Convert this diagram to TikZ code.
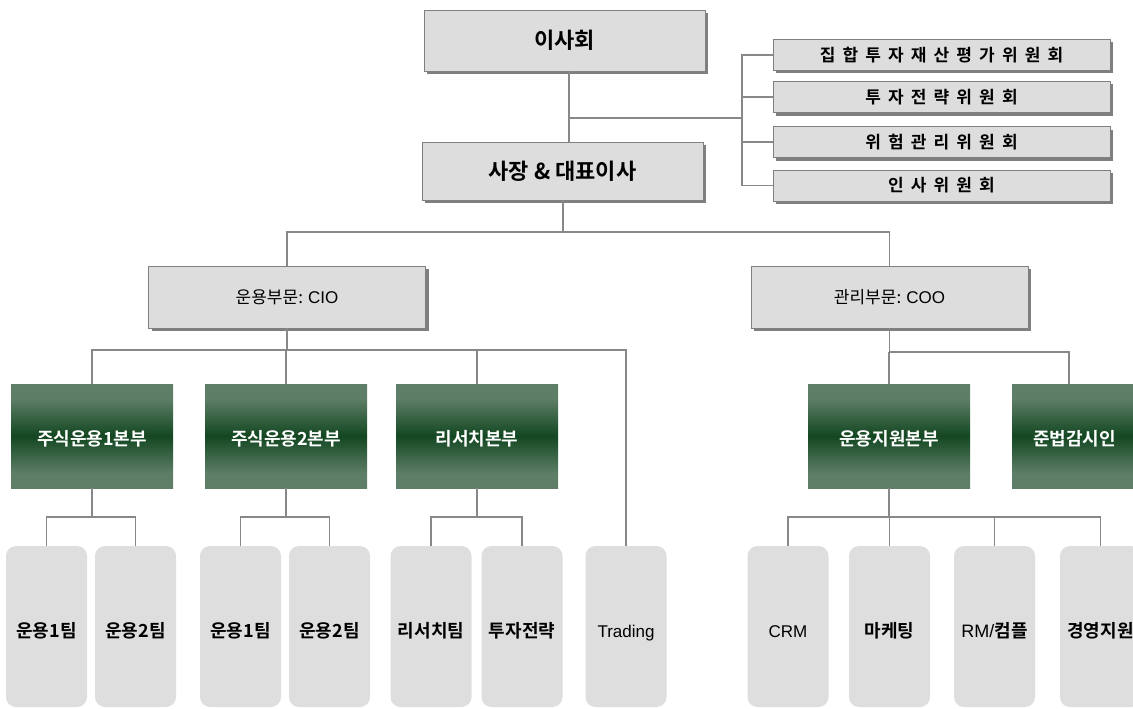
\documentclass[tikz,border=0pt]{standalone}
\usepackage{fontspec}
\setmainfont{Noto Sans CJK KR}[BoldFont={Noto Sans CJK KR Bold}]
\newfontfamily\latfont{Liberation Sans}
\usetikzlibrary{shadows}
\definecolor{boxgray}{HTML}{DDDDDD}
\definecolor{edgegray}{HTML}{808080}
\definecolor{shadowgray}{HTML}{7F7F7F}
\definecolor{linegray}{HTML}{888888}
\definecolor{gl}{HTML}{5E7E67}
\definecolor{gd}{HTML}{134721}
\definecolor{teamgray}{HTML}{DEDEDE}
\pgfdeclareverticalshading{greenshade}{100bp}{color(0bp)=(gl); color(32bp)=(gl); color(50bp)=(gd); color(68bp)=(gl); color(100bp)=(gl)}
\newcommand{\kgap}{\hspace{0.42em}}
\tikzset{
  gbox/.style={draw=edgegray, line width=0.8pt, fill=boxgray, inner sep=0pt, outer sep=0pt,
    drop shadow={shadow xshift=3pt, shadow yshift=-3pt, fill=shadowgray, opacity=1}},
  titlebox/.style={gbox, minimum width=281pt, font=\bfseries\fontsize{22}{24}\selectfont},
  combox/.style={gbox, minimum width=337pt, minimum height=31pt, font=\bfseries\fontsize{17}{19}\selectfont},
  divbox/.style={gbox, minimum width=277pt, minimum height=62pt, font=\fontsize{17}{19}\selectfont},
  greenbox/.style={shading=greenshade, text=white, minimum height=104pt, inner sep=0pt, outer sep=0pt,
    text height=20pt, text depth=2pt, font=\bfseries\fontsize{18}{20}\selectfont},
  teambox/.style={fill=teamgray, rounded corners=10pt, minimum width=81pt, minimum height=161pt,
    inner sep=0pt, outer sep=0pt, text height=23pt, text depth=2pt, font=\bfseries\fontsize{18}{20}\selectfont},
  conn/.style={draw=linegray, line width=1.4pt}
}
\begin{document}
\begin{tikzpicture}[x=1pt, y=-1pt]
\useasboundingbox (0,0) rectangle (1133,709);
\clip (0,0) rectangle (1133,709);
% top level
\node[titlebox, minimum height=61pt] (board) at (564.5,40.5) {이사회};
\node[titlebox, minimum height=58pt] (ceo) at (562.5,171) {사장 \& 대표이사};
% committees
\node[combox] (c1) at (941.5,55) {집\kgap{}합\kgap{}투\kgap{}자\kgap{}재\kgap{}산\kgap{}평\kgap{}가\kgap{}위\kgap{}원\kgap{}회};
\node[combox] (c2) at (941.5,97) {투\kgap{}자\kgap{}전\kgap{}략\kgap{}위\kgap{}원\kgap{}회};
\node[combox] (c3) at (941.5,142) {위\kgap{}험\kgap{}관\kgap{}리\kgap{}위\kgap{}원\kgap{}회};
\node[combox] (c4) at (941.5,185.5) {인\kgap{}사\kgap{}위\kgap{}원\kgap{}회};
% divisions
\node[divbox] (cio) at (287,297) {운용부문: {\latfont CIO}};
\node[divbox] (coo) at (889.5,297) {관리부문: {\latfont COO}};
% green units
\node[greenbox, minimum width=162pt] (g1) at (92,436) {주식운용1본부};
\node[greenbox, minimum width=162pt] (g2) at (286,436) {주식운용2본부};
\node[greenbox, minimum width=162pt] (g3) at (477,436) {리서치본부};
\node[greenbox, minimum width=162pt] (g4) at (889,436) {운용지원본부};
\node[greenbox, minimum width=125pt] (g5) at (1074.5,436) {준법감시인};
% teams
\node[teambox] (t1) at (46.5,626.5) {운용1팀};
\node[teambox] (t2) at (135.5,626.5) {운용2팀};
\node[teambox] (t3) at (240.5,626.5) {운용1팀};
\node[teambox] (t4) at (329.5,626.5) {운용2팀};
\node[teambox] (t5) at (431,626.5) {리서치팀};
\node[teambox] (t6) at (522,626.5) {투자전략};
\node[teambox] (t7) at (626,626.5) {\latfont\mdseries\fontsize{17}{19}\selectfont Trading};
\node[teambox] (t8) at (788,626.5) {\latfont\mdseries\fontsize{17}{19}\selectfont CRM};
\node[teambox] (t9) at (889.5,626.5) {마케팅};
\node[teambox] (t10) at (994.5,626.5) {{\latfont\mdseries RM/}컴플};
\node[teambox] (t11) at (1100.5,626.5) {경영지원};
% junction coordinates
\coordinate (j0) at (569,118);
\coordinate (cbr) at (742,118);
\coordinate (j1) at (563,232);
\coordinate (j2) at (0,350);
\coordinate (j3) at (0,352);
\coordinate (j5) at (1069,352);
\coordinate (j4) at (0,517);
% connectors
\draw[conn] (board.south -| j0) -- (ceo.north -| j0);
\draw[conn] (j0) -- (cbr);
\draw[conn] (c1.west) -- (c1.west -| cbr) -- (c4.west -| cbr) -- (c4.west);
\draw[conn] (c2.west) -- (c2.west -| cbr);
\draw[conn] (c3.west) -- (c3.west -| cbr);
\draw[conn] (ceo.south -| j1) -- (j1);
\draw[conn] (cio.north) -- (cio.north |- j1) -- (coo.north |- j1) -- (coo.north);
\draw[conn] (cio.south) -- (cio.south |- j2);
\draw[conn] (g1.north) -- (g1.north |- j2) -- (t7.north |- j2) -- (t7.north);
\draw[conn] (g2.north) -- (g2.north |- j2);
\draw[conn] (g3.north) -- (g3.north |- j2);
\draw[conn] (coo.south) -- (coo.south |- j3) -- (j5) -- (g5.north -| j5);
\draw[conn] (g4.north) -- (g4.north |- j3);
\draw[conn] (g1.south) -- (g1.south |- j4);
\draw[conn] (t1.north) -- (t1.north |- j4) -- (t2.north |- j4) -- (t2.north);
\draw[conn] (g2.south) -- (g2.south |- j4);
\draw[conn] (t3.north) -- (t3.north |- j4) -- (t4.north |- j4) -- (t4.north);
\draw[conn] (g3.south) -- (g3.south |- j4);
\draw[conn] (t5.north) -- (t5.north |- j4) -- (t6.north |- j4) -- (t6.north);
\draw[conn] (g4.south) -- (g4.south |- j4);
\draw[conn] (t8.north) -- (t8.north |- j4) -- (t11.north |- j4) -- (t11.north);
\draw[conn] (t9.north) -- (t9.north |- j4);
\draw[conn] (t10.north) -- (t10.north |- j4);
\end{tikzpicture}
\end{document}
